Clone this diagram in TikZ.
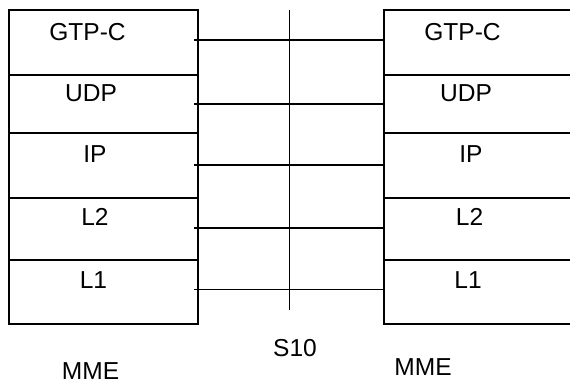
\documentclass[tikz,border=0pt]{standalone}
\usepackage{fontspec}
\setmainfont{Liberation Sans}
\usetikzlibrary{positioning}
\tikzstyle{cell} = [rectangle, draw=black, line width=1pt, inner sep=0pt, outer sep=0pt, minimum width=141.75pt]
\tikzstyle{tag} = [font=\fontsize{18.4}{22}\selectfont, inner sep=0pt]
\tikzstyle{link} = [line width=0.85pt]

\begin{document}
\begin{tikzpicture}
[x=0.75pt, y=-0.75pt, node distance=0pt]
\useasboundingbox (0,0) rectangle (570,383);

% left stack
\node (lgtp) [cell, anchor=north west, minimum height=48.75pt] at (9,10) {};
\node (ludp) [cell, below=of lgtp, minimum height=43.5pt] {};
\node (lip) [cell, below=of ludp, minimum height=48.75pt] {};
\node (ll2) [cell, below=of lip, minimum height=46.5pt] {};
\node (ll1) [cell, below=of ll2, minimum height=48pt] {};

% right stack
\node (rgtp) [cell, anchor=north west, minimum height=48.75pt] at (384,10) {};
\node (rudp) [cell, below=of rgtp, minimum height=43.5pt] {};
\node (rip) [cell, below=of rudp, minimum height=48.75pt] {};
\node (rl2) [cell, below=of rip, minimum height=46.5pt] {};
\node (rl1) [cell, below=of rl2, minimum height=48pt] {};

\node (lgtpt) [tag] at (87.5,32) {GTP-C};
\node (ludpt) [tag] at (91,93.5) {UDP};
\node (lipt) [tag] at (95,154.5) {IP};
\node (ll2t) [tag] at (95,216.5) {L2};
\node (ll1t) [tag] at (93.5,280) {L1};

\node (rgtpt) [tag] at (462.5,32) {GTP-C};
\node (rudpt) [tag] at (466,93.5) {UDP};
\node (ript) [tag] at (471,154.5) {IP};
\node (rl2t) [tag] at (469.5,216.5) {L2};
\node (rl1t) [tag] at (468,280) {L1};

\node (lmme) [tag] at (90.5,371.5) {MME};
\node (rmme) [tag] at (423,367.5) {MME};
\node (s10) [tag] at (295,348) {S10};

\coordinate (s10top) at (289.3,10);
\coordinate (s10bot) at (289.3,310);
\draw [link] (s10top) -- (s10bot);

\foreach \c/\d in {gtp/1.9, udp/0, ip/0.4, l2/0.8, l1/2.2}
  \draw [link] ([xshift=-3pt, yshift=\d pt]l\c.east) -- ([yshift=\d pt]r\c.west);
\end{tikzpicture}
\end{document}
